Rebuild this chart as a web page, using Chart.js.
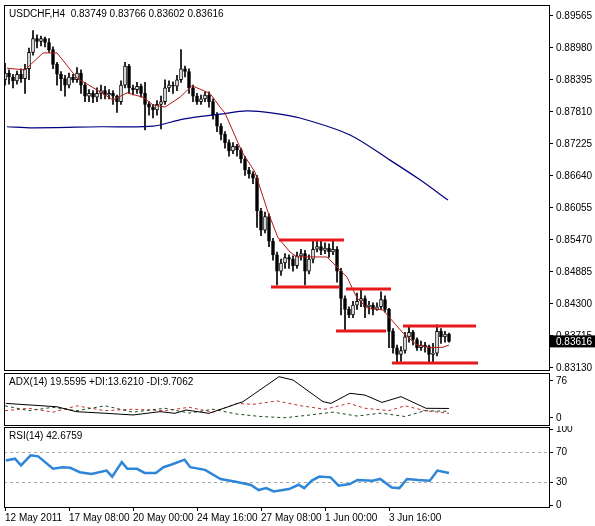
<!DOCTYPE html>
<html>
<head>
<meta charset="utf-8">
<script src="https://cdn.jsdelivr.net/npm/chart.js@4.4.0/dist/chart.umd.min.js"></script>
<style>
  body { margin: 0; background: #fff; }
  #wrap { position: relative; width: 595px; height: 526px; background: #fff; }
  canvas { position: absolute; left: 0; }
</style>
</head>
<body>
<div id="wrap">
  <canvas id="main" style="top:0px" width="595" height="372"></canvas>
  <canvas id="adx" style="top:372px" width="595" height="54"></canvas>
  <canvas id="rsi" style="top:426px" width="595" height="100"></canvas>
</div>
<script>
// USDCHF H4 candles, index 0 = 12 May 2011
const opens = [.8840,.8852,.8845,.8838,.8850,.8842,.8860,.8890,.8915,.8910,.8915,.8908,.8895,.8868,.8850,.8842,.8830,.8845,.8840,.8852,
  .8830,.8810,.8815,.8808,.8815,.8820,.8812,.8815,.8810,.8800,.8830,.8865,.8825,.8822,.8828,.8815,.8795,.8790,.8785,.8795,
  .8800,.8825,.8830,.8828,.8840,.8860,.8855,.8825,.8810,.8800,.8805,.8812,.8800,.8775,.8755,.8740,.8725,.8710,.8718,.8712,
  .8695,.8675,.8668,.8660,.8600,.8565,.8590,.8545,.8520,.8490,.8505,.8515,.8512,.8500,.8518,.8522,.8490,.8512,.8530,.8535,
  .8528,.8532,.8525,.8530,.8490,.8440,.8420,.8410,.8428,.8435,.8440,.8425,.8428,.8420,.8425,.8438,.8420,.8380,.8350,.8338,
  .8345,.8370,.8378,.8365,.8350,.8355,.8352,.8338,.8340,.8380,.8370,.83749];
const closes = [.8852,.8845,.8838,.8850,.8842,.8860,.8890,.8915,.8910,.8915,.8908,.8895,.8868,.8850,.8842,.8830,.8845,.8840,.8852,.8830,
  .8810,.8815,.8808,.8815,.8820,.8812,.8815,.8810,.8800,.8830,.8865,.8825,.8822,.8828,.8815,.8795,.8790,.8785,.8795,.8800,
  .8825,.8830,.8828,.8840,.8860,.8855,.8825,.8810,.8800,.8805,.8812,.8800,.8775,.8755,.8740,.8725,.8710,.8718,.8712,.8695,
  .8675,.8668,.8660,.8600,.8565,.8590,.8545,.8520,.8490,.8505,.8515,.8512,.8500,.8518,.8522,.8490,.8512,.8530,.8535,.8528,
  .8532,.8525,.8530,.8490,.8440,.8420,.8410,.8428,.8435,.8440,.8425,.8428,.8420,.8425,.8438,.8420,.8380,.8350,.8338,.8345,
  .8370,.8378,.8365,.8350,.8355,.8352,.8338,.8340,.8380,.8370,.83749,.83616];
const highs = [.8870,.8858,.8850,.8856,.8860,.8868,.8898,.8930,.8922,.8920,.8918,.8915,.8900,.8872,.8855,.8848,.8852,.8850,.8862,.8858,
  .8835,.8822,.8820,.8825,.8830,.8828,.8822,.8820,.8812,.8838,.8872,.8868,.8830,.8835,.8832,.8835,.8800,.8795,.8802,.8810,
  .8840,.8838,.8836,.8848,.8895,.8865,.8860,.8830,.8815,.8812,.8818,.8818,.8805,.8780,.8760,.8745,.8730,.8725,.8722,.8715,
  .8700,.8680,.8672,.8665,.8605,.8598,.8595,.8550,.8525,.8512,.8522,.8520,.8518,.8525,.8530,.8528,.8520,.8545,.8548,.8545,
  .8542,.8540,.8545,.8535,.8495,.8445,.8425,.8435,.8450,.8455,.8445,.8435,.8432,.8432,.8452,.8445,.8422,.8385,.8355,.8352,
  .8378,.8388,.8382,.8368,.8362,.8360,.8355,.8358,.8392,.8385,.8380,.83766];
const lows = [.8830,.8832,.8825,.8832,.8835,.8815,.8840,.8885,.8898,.8902,.8900,.8890,.8860,.8830,.8820,.8810,.8825,.8835,.8835,.8815,
  .8800,.8800,.8798,.8800,.8805,.8805,.8805,.8795,.8780,.8795,.8825,.8815,.8812,.8815,.8808,.8748,.8775,.8770,.8775,.8750,
  .8795,.8818,.8815,.8820,.8835,.8845,.8815,.8800,.8795,.8795,.8800,.8790,.8768,.8745,.8730,.8715,.8700,.8705,.8700,.8688,
  .8665,.8660,.8650,.8570,.8555,.8560,.8535,.8510,.8465,.8482,.8495,.8495,.8490,.8495,.8510,.8465,.8485,.8505,.8525,.8520,
  .8522,.8515,.8520,.8470,.8410,.8380,.8405,.8405,.8420,.8425,.8405,.8412,.8410,.8418,.8420,.8415,.8350,.8340,.8322,.8325,
  .8340,.8360,.8355,.8345,.8345,.8342,.8322,.8322,.8335,.8358,.8360,.83602];

// moving averages: [bar index, price]
const fastMA = [[0.5,.8861],[5,.8858],[9.5,.8889],[13,.8889],[18,.8843],[23.75,.8818],[27,.8803],[30.5,.8816],[34.5,.8808],[37,.8794],
  [40,.8790],[43.75,.8808],[46.75,.8829],[51.25,.8815],[53.75,.8790],[55,.8779],[59.25,.8708],[62.5,.8671],[65.75,.8598],[68.25,.8551],
  [71.25,.8525],[73,.8516],[80.5,.8516],[85.5,.8479],[88,.8441],[90.5,.8423],[94.5,.8419],[96.25,.8404],[99.5,.8377],[103,.8355],
  [106.25,.8350],[109.5,.8351],[111,.8355]];
const slowMA = [[0.5,.8754],[7,.8752],[23.75,.8754],[37,.8755],[44.5,.8768],[53.75,.8777],[60.5,.8783],[67,.8779],[73.75,.8770],
  [86.25,.8739],[96.25,.8693],[103.75,.8657],[110.75,.8620]];

// hand drawn support / resistance lines: [from bar, to bar, price]
const levels = [[68.5,84.75,.8547],[66.5,83.5,.84611],[85.25,96.5,.84574],[82.75,95.25,.83806],[99.5,117.75,.83898],[96.75,118.25,.83221]];

const priceTicks = [.83130,.83715,.84300,.84885,.85470,.86055,.86640,.87225,.87810,.88395,.88980,.89565];

const adxLine = [[0.2,30],[6.25,26.7],[13,23],[17.75,13],[25.25,9.6],[32,6.2],[38.75,13],[42.5,9.6],[45.25,16.4],[51,9.6],
  [59.5,33.5],[68.5,84.8],[72,78],[79.5,33.5],[81.5,30],[86.25,50.7],[90,47],[94.25,32],[99,43.8],[105.25,19.9],[111,19.56]];
const plusDI = [[0,25],[6,15],[12,22],[18,15],[25,25],[32,12],[40,20],[46,10],[52,18],[58,8],[64,3],[70,0.5],[76,6],[82,12],
  [88,4],[94,10],[100,3],[105,15],[111,13.62]];
const minusDI = [[0,15],[6,20],[12,12],[18,25],[25,15],[32,18],[40,15],[46,22],[52,12],[58,30],[62,28],[68,35],[74,25],[80,18],
  [86,30],[90,20],[96,15],[100,25],[105,15],[111,9.71]];
const adxTicks = [0, 76];

const rsiLine = [[0.2,59.3],[2.5,61.6],[4,52.7],[6.4,66],[8.3,64.7],[12,48.3],[14.4,50.4],[16.3,49.6],[18.7,43.8],[21.6,41.6],
  [25.4,46],[26.8,38],[29.2,57],[30.6,48.3],[33,48.3],[34.9,42.9],[37.7,42.9],[39.6,50.4],[41.5,53.6],[44.9,60.3],[46.3,50.4],
  [50,46.9],[53.9,34.9],[57.7,31.3],[61.5,26.9],[63.4,20.3],[65.3,22.9],[67.2,18.4],[71,21.6],[73.4,27.3],[74.8,22.9],[76.7,32.7],
  [78.6,38],[81.4,37],[83.4,26],[86.2,28.3],[88.1,33.6],[91.9,32.7],[93.8,34.9],[96.7,23.7],[98.6,22.9],[100.5,34.9],[103.3,33.6],
  [106.2,32.7],[108.1,46],[111,42.68]];
const rsiTicks = [0, 30, 70, 100];

const timeLabels = ['12 May 2011','17 May 08:00','20 May 00:00','24 May 16:00','27 May 08:00','1 Jun 00:00','3 Jun 16:00'];
const timeTickBars = [0,16,32,48,64,80,96];

const FONT = 'Liberation Sans';
Chart.defaults.font.family = FONT;
Chart.defaults.font.size = 10;
Chart.defaults.color = '#000';
Chart.defaults.animation = false;

const X_MIN = -0.25, X_MAX = 136;
const pts = a => a.map(p => ({x: p[0], y: p[1]}));

function xAxis(show){
  const ax = {
    type: 'linear', min: X_MIN, max: X_MAX, display: show, offset: false,
    grid: {drawOnChartArea: false, color: '#000', tickLength: 4, offset: false},
    border: {display: false},
    afterBuildTicks: s => { s.ticks = timeTickBars.map(v => ({value: v})); },
    ticks: {autoSkip: false, maxRotation: 0, align: 'start', padding: 1,
      callback: (v) => timeLabels[timeTickBars.indexOf(v)] || ''}
  };
  if (show) ax.afterFit = s => { s.height = 19; s.paddingLeft = 0; s.paddingRight = 0; };
  return ax;
}
function yAxis(min, max, tickVals, fmt, extra){
  return Object.assign({
    type: 'linear', position: 'right', min: min, max: max,
    grid: {drawOnChartArea: false, color: '#000', tickLength: 4},
    border: {display: false},
    afterBuildTicks: s => { s.ticks = tickVals.map(v => ({value: v})); },
    afterFit: s => { s.width = 46; s.paddingTop = 0; s.paddingBottom = 0; },
    ticks: {autoSkip: false, padding: 3, callback: fmt}
  }, extra || {});
}

const frame = {
  id: 'frame',
  afterDraw(chart, args, opts){
    const {ctx, chartArea: a} = chart;
    ctx.save();
    ctx.strokeStyle = '#000';
    ctx.lineWidth = 1;
    ctx.setLineDash([]);
    ctx.strokeRect(Math.floor(a.left) + 0.5, Math.floor(a.top) + 0.5, Math.round(a.right - a.left), Math.round(a.bottom - a.top));
    ctx.font = '10px ' + FONT;
    ctx.fillStyle = '#000';
    ctx.textBaseline = 'top';
    ctx.fillText(opts.title, a.left + 5, a.top + 4);
    if (opts.lastPrice){
      const y = chart.scales.y.getPixelForValue(opts.lastPrice);
      ctx.fillStyle = '#000';
      ctx.fillRect(a.right + 1, y - 6, 45, 12);
      ctx.fillStyle = '#fff';
      ctx.textBaseline = 'middle';
      ctx.fillText(opts.lastPrice.toFixed(5), a.right + 7, y + 0.5);
    }
    ctx.restore();
  }
};

// candle building
const wicks = closes.map((c, i) => ({x: i, y: [lows[i], highs[i]]}));
const bodies = closes.map((c, i) => ({x: i, y: [Math.min(opens[i], c), Math.max(opens[i], c)]}));
const bodyFill = closes.map((c, i) => c >= opens[i] ? '#fff' : '#000');

const levelSets = levels.map(l => ({
  type: 'line', data: [{x: l[0], y: l[2]}, {x: l[1], y: l[2]}],
  borderColor: '#e8191c', borderWidth: 3, pointRadius: 0, order: 0
}));

new Chart(document.getElementById('main'), {
  data: {datasets: [
    {type: 'bar', data: wicks, backgroundColor: '#000', barThickness: 1, grouped: false, order: 3},
    {type: 'bar', data: bodies, backgroundColor: bodyFill, borderColor: '#000', borderWidth: 1,
     borderSkipped: false, barThickness: 3, grouped: false, order: 2},
    {type: 'line', data: pts(fastMA), borderColor: '#b01818', borderWidth: 1, pointRadius: 0, order: 1},
    {type: 'line', data: pts(slowMA), borderColor: '#000080', borderWidth: 1.2, pointRadius: 0, tension: 0.3, order: 1},
    ...levelSets
  ]},
  options: {
    responsive: false,
    layout: {padding: {left: 4, top: 5, right: 0, bottom: 2}},
    plugins: {legend: {display: false}, tooltip: {enabled: false},
      frame: {title: 'USDCHF,H4  0.83749 0.83766 0.83602 0.83616', lastPrice: 0.83616}},
    scales: {
      x: xAxis(false),
      y: yAxis(0.83093, 0.89766, priceTicks, v => v.toFixed(5))
    }
  },
  plugins: [frame]
});

new Chart(document.getElementById('adx'), {
  type: 'line',
  data: {datasets: [
    {data: pts(adxLine), borderColor: '#000', borderWidth: 1, pointRadius: 0},
    {data: pts(plusDI), borderColor: '#1e4a1e', borderWidth: 1, borderDash: [3, 3], pointRadius: 0},
    {data: pts(minusDI), borderColor: '#c0302a', borderWidth: 1, borderDash: [3, 3], pointRadius: 0}
  ]},
  options: {
    responsive: false,
    layout: {padding: {left: 4, top: 1, right: 0, bottom: 1}},
    plugins: {legend: {display: false}, tooltip: {enabled: false},
      frame: {title: 'ADX(14) 19.5595 +DI:13.6210 -DI:9.7062'}},
    scales: {
      x: xAxis(false),
      y: yAxis(-14.4, 92.4, adxTicks, v => String(v))
    }
  },
  plugins: [frame]
});

new Chart(document.getElementById('rsi'), {
  type: 'line',
  data: {datasets: [
    {data: pts(rsiLine), borderColor: '#2f86d8', borderWidth: 2.5, pointRadius: 0}
  ]},
  options: {
    responsive: false,
    layout: {padding: {left: 4, top: 1, right: 0, bottom: 0}},
    plugins: {legend: {display: false}, tooltip: {enabled: false},
      frame: {title: 'RSI(14) 42.6759'}},
    scales: {
      x: xAxis(true),
      y: yAxis(-2, 103.3, rsiTicks, v => String(v), {
        grid: {drawOnChartArea: true, tickLength: 4, tickColor: '#000',
          color: c => (c.tick && (c.tick.value === 30 || c.tick.value === 70)) ? '#a8a8a8' : 'rgba(0,0,0,0)'},
        border: {display: false, dash: [3, 3]}
      })
    }
  },
  plugins: [frame]
});
</script>
</body>
</html>
